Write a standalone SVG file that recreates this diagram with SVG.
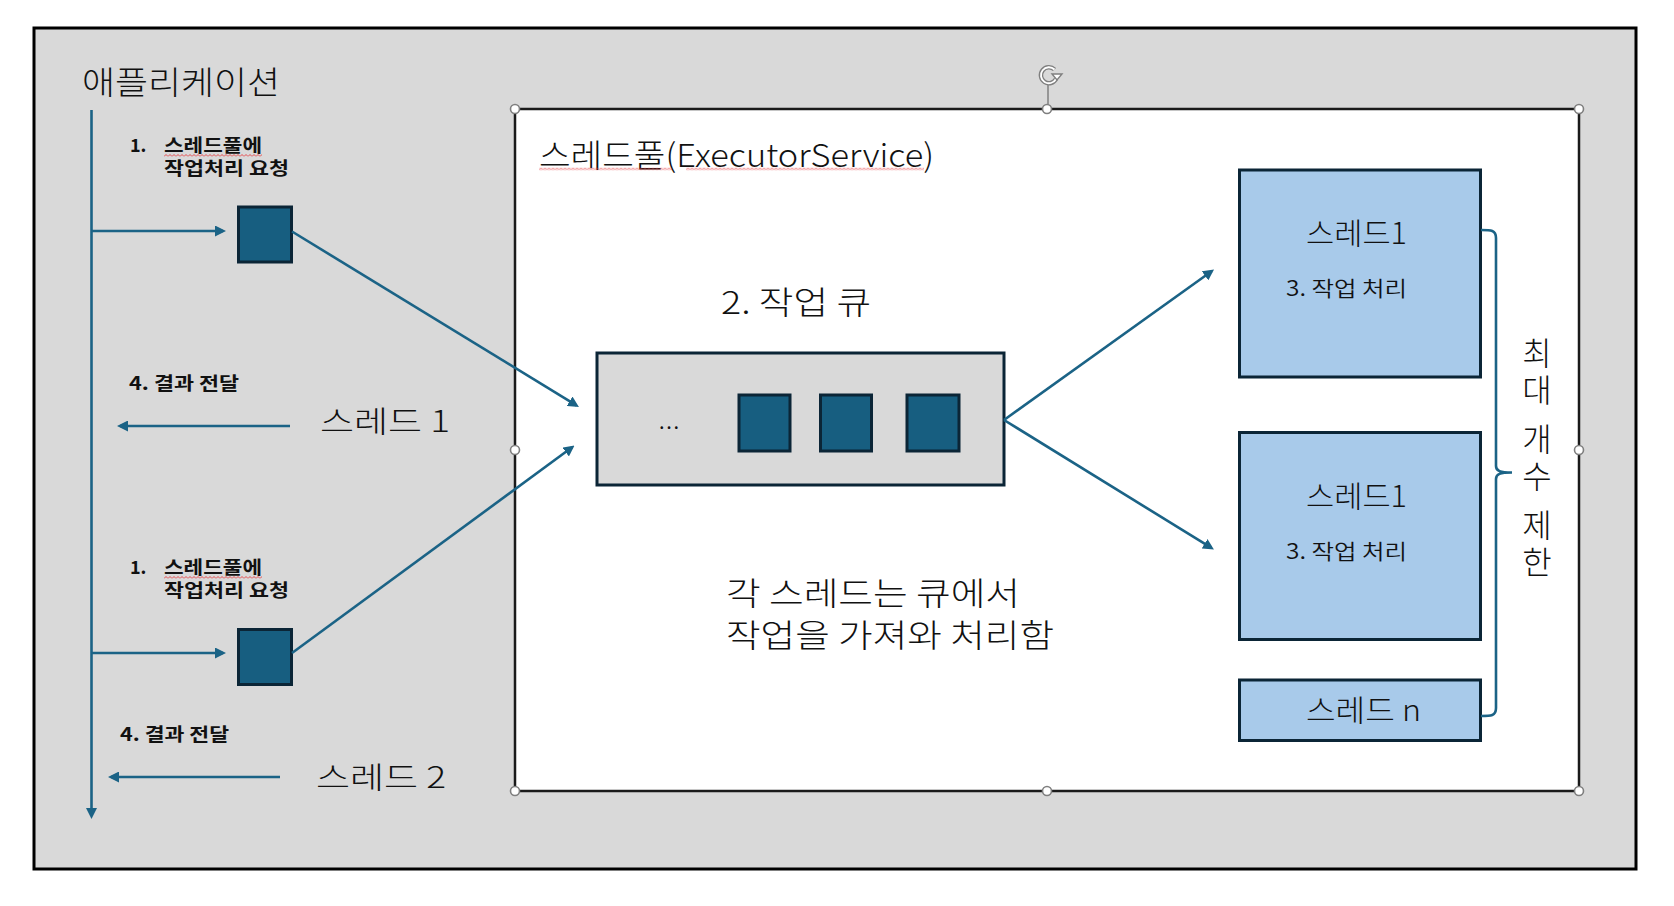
<svg xmlns="http://www.w3.org/2000/svg" width="1674" height="906" viewBox="0 0 1674 906">
<style>
text { font-family: 'Noto Sans CJK KR', 'Noto Sans', sans-serif; fill:#111; }
.lbl { font-size:18px; font-weight:700; }
.big { font-size:32px; font-weight:300; }
.mid { font-size:30px; font-weight:300; }
.sm { font-size:21px; font-weight:350; }
.conn { stroke:#1B6386; stroke-width:2.6; fill:none; }
.task { fill:#175E80; stroke:#0B2536; stroke-width:3; }
.thread { fill:#A8CAEA; stroke:#0B2536; stroke-width:3; }
.handle { fill:#fff; stroke:#7F7F7F; stroke-width:1.6; }
.sq { fill:url(#squig); }
</style>
<defs>
<marker id="ah" viewBox="0 0 11 11" refX="8" refY="5.5" markerWidth="11" markerHeight="11" markerUnits="userSpaceOnUse" orient="auto"><path d="M0,0 L11,5.5 L0,11 z" fill="#1B6386"/></marker>
<pattern id="squig" width="4" height="3" patternUnits="userSpaceOnUse"><path d="M0,2.5 L2,0.5 L4,2.5" fill="none" stroke="#E5393B" stroke-width="0.9"/></pattern>
</defs>
<rect x="0" y="0" width="1674" height="906" fill="#fff"/>

<g id="application">
<rect x="34" y="28" width="1602" height="841" fill="#D9D9D9" stroke="#000" stroke-width="3"/>
<text class="big" x="82" y="94" textLength="198" lengthAdjust="spacingAndGlyphs">애플리케이션</text>
</g>

<g id="threadpool">
<rect x="515" y="109" width="1064" height="682" fill="#fff" stroke="#1a1a1a" stroke-width="2.5"/>
<text class="big" x="539" y="167" font-size="33" textLength="395" lengthAdjust="spacingAndGlyphs">스레드풀(ExecutorService)</text>
<rect class="sq" x="0" y="0" width="133" height="3" transform="translate(539,167.5)"/>
<rect class="sq" x="0" y="0" width="238" height="3" transform="translate(686,167.5)"/>
</g>

<g id="handles">
<line x1="1048" y1="84" x2="1048" y2="105" stroke="#7F7F7F" stroke-width="1.5"/>
<path d="M1054.5,69.5 A8,8 0 1 0 1056,79" fill="none" stroke="#7F7F7F" stroke-width="4.5"/>
<path d="M1054.5,69.5 A8,8 0 1 0 1056,79" fill="none" stroke="#fff" stroke-width="1.8"/>
<path d="M1052,74 L1062,74 L1057,80 z" fill="#fff" stroke="#7F7F7F" stroke-width="1.4"/>
<circle class="handle" cx="515" cy="109" r="4.5"/>
<circle class="handle" cx="1047" cy="109" r="4.5"/>
<circle class="handle" cx="1579" cy="109" r="4.5"/>
<circle class="handle" cx="515" cy="450" r="4.5"/>
<circle class="handle" cx="1579" cy="450" r="4.5"/>
<circle class="handle" cx="515" cy="791" r="4.5"/>
<circle class="handle" cx="1047" cy="791" r="4.5"/>
<circle class="handle" cx="1579" cy="791" r="4.5"/>
</g>

<g id="request1">
<rect class="task" x="238.5" y="207" width="53" height="55"/>
<text class="lbl" x="130" y="152">1.</text>
<text class="lbl" x="164" y="152" textLength="98" lengthAdjust="spacingAndGlyphs">스레드풀에</text>
<rect class="sq" x="0" y="0" width="98" height="3" transform="translate(164,154)"/>
<text class="lbl" x="164" y="175" textLength="125" lengthAdjust="spacingAndGlyphs">작업처리 요청</text>
</g>

<g id="request2">
<rect class="task" x="238.5" y="629.5" width="53" height="55"/>
<text class="lbl" x="130" y="574">1.</text>
<text class="lbl" x="164" y="574" textLength="98" lengthAdjust="spacingAndGlyphs">스레드풀에</text>
<rect class="sq" x="0" y="0" width="98" height="3" transform="translate(164,576)"/>
<text class="lbl" x="164" y="597" textLength="125" lengthAdjust="spacingAndGlyphs">작업처리 요청</text>
</g>

<g id="result1">
<text class="lbl" x="129" y="390" textLength="110" lengthAdjust="spacingAndGlyphs">4. 결과 전달</text>
<text class="mid" x="320" y="432" textLength="130" lengthAdjust="spacingAndGlyphs">스레드 1</text>
</g>

<g id="result2">
<text class="lbl" x="120" y="741" textLength="109" lengthAdjust="spacingAndGlyphs">4. 결과 전달</text>
<text class="mid" x="316" y="788" textLength="130" lengthAdjust="spacingAndGlyphs">스레드 2</text>
</g>

<g id="queue">
<text class="big" x="721" y="314" font-size="33" textLength="150" lengthAdjust="spacingAndGlyphs">2. 작업 큐</text>
<rect x="597" y="353" width="407" height="132" fill="#D9D9D9" stroke="#0B2536" stroke-width="3"/>
<text x="659" y="429" font-size="20" textLength="20">...</text>
<rect class="task" x="739" y="395" width="51" height="56"/>
<rect class="task" x="820.5" y="395" width="51" height="56"/>
<rect class="task" x="907" y="395" width="52" height="56"/>
</g>

<g id="note">
<text class="big" x="726" y="605" font-size="33" textLength="294" lengthAdjust="spacingAndGlyphs">각 스레드는 큐에서</text>
<text class="big" x="726" y="647" font-size="33" textLength="328" lengthAdjust="spacingAndGlyphs">작업을 가져와 처리함</text>
</g>

<g id="thread-a">
<rect class="thread" x="1239.5" y="170" width="241" height="207"/>
<text class="mid" x="1306" y="244" textLength="101" lengthAdjust="spacingAndGlyphs">스레드1</text>
<text class="sm" x="1286" y="296" textLength="121" lengthAdjust="spacingAndGlyphs">3. 작업 처리</text>
</g>

<g id="thread-b">
<rect class="thread" x="1239.5" y="432.5" width="241" height="207"/>
<text class="mid" x="1306" y="507" textLength="101" lengthAdjust="spacingAndGlyphs">스레드1</text>
<text class="sm" x="1286" y="559" textLength="121" lengthAdjust="spacingAndGlyphs">3. 작업 처리</text>
</g>

<g id="thread-n">
<rect class="thread" x="1239.5" y="680" width="241" height="60.5"/>
<text class="mid" x="1306" y="721" textLength="115" lengthAdjust="spacingAndGlyphs">스레드 n</text>
</g>

<g id="limit">
<text class="big" font-size="31" x="1537" y="337" writing-mode="vertical-rl" letter-spacing="5">최대 개수 제한</text>
</g>

<g id="connectors">
<line class="conn" x1="91.5" y1="110" x2="91.5" y2="816" marker-end="url(#ah)"/>
<line class="conn" x1="91.5" y1="231" x2="223" y2="231" marker-end="url(#ah)"/>
<line class="conn" x1="91.5" y1="653" x2="223" y2="653" marker-end="url(#ah)"/>
<line class="conn" x1="290" y1="426" x2="120" y2="426" marker-end="url(#ah)"/>
<line class="conn" x1="280" y1="777" x2="111" y2="777" marker-end="url(#ah)"/>
<line class="conn" x1="292" y1="231.5" x2="576.4" y2="405.4" marker-end="url(#ah)"/>
<line class="conn" x1="292" y1="653" x2="572.1" y2="447.3" marker-end="url(#ah)"/>
<line class="conn" x1="1004" y1="420" x2="1211.6" y2="271.2" marker-end="url(#ah)"/>
<line class="conn" x1="1004" y1="420" x2="1211.4" y2="547.9" marker-end="url(#ah)"/>
<path class="conn" d="M1481,230 C1491,230 1496,230 1496,238 L1496,466 C1496,471 1500,472.5 1512,472.5 C1500,472.5 1496,474 1496,479 L1496,708 C1496,716 1491,716 1481,716"/>
</g>
</svg>
